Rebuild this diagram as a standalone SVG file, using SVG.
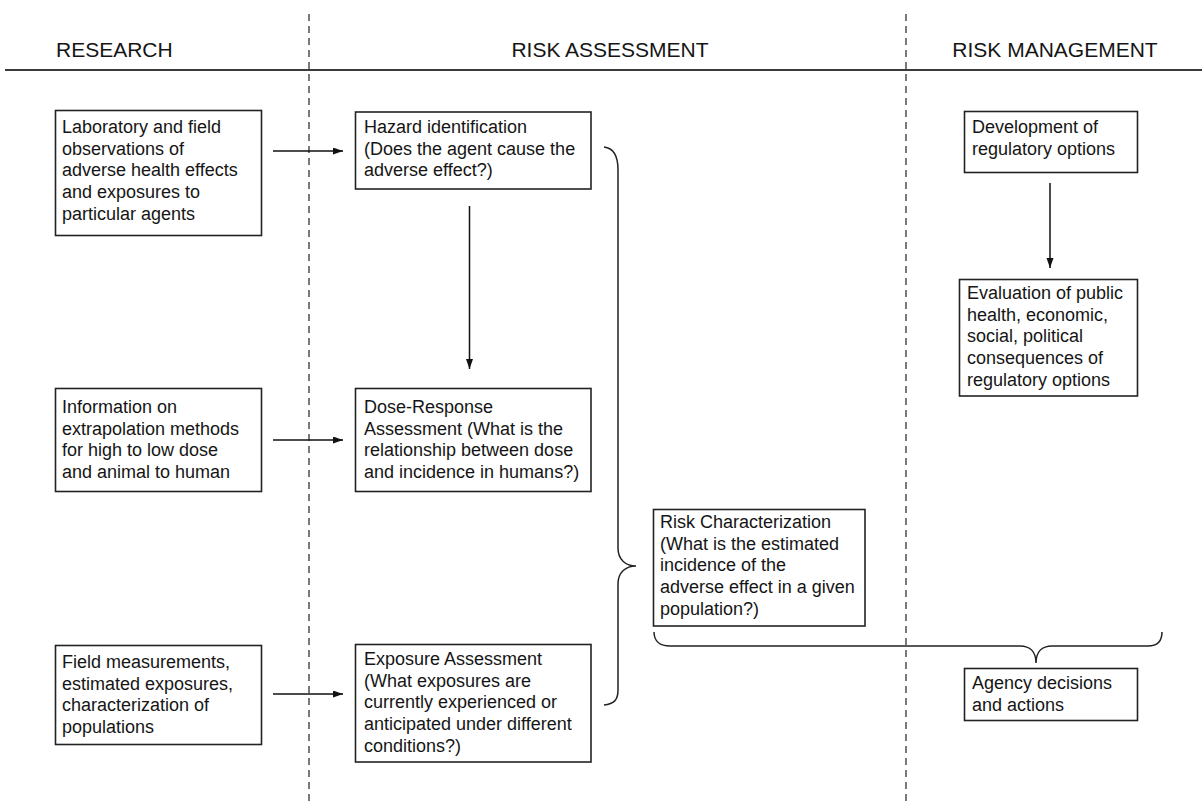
<svg xmlns="http://www.w3.org/2000/svg" width="1202" height="806" viewBox="0 0 1202 806">
<defs>
<marker id="ah" markerWidth="11" markerHeight="8" refX="10" refY="3.5" orient="auto" markerUnits="userSpaceOnUse">
<path d="M0,0 L10,3.5 L0,7 z" fill="#111"/>
</marker>
<style>
text{font-family:"Liberation Sans",Arial,Helvetica,sans-serif;fill:#151515}
.hdr{font-size:21px}
.t{font-size:18px}
.box{fill:#fff;stroke:#222;stroke-width:1.6}
.dash{stroke:#333;stroke-width:1.3;stroke-dasharray:7 5;fill:none}
.con{stroke:#111;stroke-width:1.5;fill:none}
.brace{stroke:#222;stroke-width:1.5;fill:none}
</style>
</defs>
<rect width="1202" height="806" fill="#fff"/>
<g id="headers">
<text class="hdr" x="56" y="57">RESEARCH</text>
<text class="hdr" x="610" y="57" text-anchor="middle">RISK ASSESSMENT</text>
<text class="hdr" x="1055" y="57" text-anchor="middle">RISK MANAGEMENT</text>
<line x1="5" y1="70" x2="1202" y2="70" stroke="#3a3a3a" stroke-width="2.2"/>
</g>
<g id="dividers">
<line class="dash" x1="309" y1="14" x2="309" y2="806"/>
<line class="dash" x1="906" y1="14" x2="906" y2="806"/>
</g>
<g id="connectors">
<line class="con" x1="273" y1="151" x2="343" y2="151" marker-end="url(#ah)"/>
<line class="con" x1="273" y1="440" x2="343" y2="440" marker-end="url(#ah)"/>
<line class="con" x1="273" y1="694" x2="343" y2="694" marker-end="url(#ah)"/>
<line class="con" x1="469.5" y1="206" x2="469.5" y2="369" marker-end="url(#ah)"/>
<line class="con" x1="1050" y1="183" x2="1050" y2="268" marker-end="url(#ah)"/>
<path class="brace" d="M604,147 C614,148 618,156 618,170 L618,548 C618,560 626,566 636,566 C626,566 618,572 618,584 L618,690 C618,700 614,704 604,705"/>
<path class="brace" d="M654,632 C654,641 660,646 670,646 L1020,646 C1030,646 1036,652 1036,663 C1036,652 1042,646 1052,646 L1148,646 C1158,646 1162,641 1162,632"/>
</g>
<g id="r1">
<rect class="box" x="55.5" y="110.5" width="206" height="125"/>
<text class="t" x="62"><tspan x="62" y="133">Laboratory and field</tspan><tspan x="62" y="154.7">observations of</tspan><tspan x="62" y="176.4">adverse health effects</tspan><tspan x="62" y="198.1">and exposures to</tspan><tspan x="62" y="219.8">particular agents</tspan></text>
</g>
<g id="r2">
<rect class="box" x="55.5" y="388.5" width="206" height="103"/>
<text class="t"><tspan x="62" y="413">Information on</tspan><tspan x="62" y="434.7">extrapolation methods</tspan><tspan x="62" y="456.4">for high to low dose</tspan><tspan x="62" y="478.1">and animal to human</tspan></text>
</g>
<g id="r3">
<rect class="box" x="55.5" y="645.5" width="206" height="99"/>
<text class="t"><tspan x="62" y="668">Field measurements,</tspan><tspan x="62" y="689.7">estimated exposures,</tspan><tspan x="62" y="711.4">characterization of</tspan><tspan x="62" y="733.1">populations</tspan></text>
</g>
<g id="a1">
<rect class="box" x="355.5" y="112" width="235.5" height="77"/>
<text class="t"><tspan x="364" y="133">Hazard identification</tspan><tspan x="364" y="154.7">(Does the agent cause the</tspan><tspan x="364" y="176.4">adverse effect?)</tspan></text>
</g>
<g id="a2">
<rect class="box" x="355.5" y="388.5" width="235.5" height="103"/>
<text class="t"><tspan x="364" y="413">Dose-Response</tspan><tspan x="364" y="434.7">Assessment (What is the</tspan><tspan x="364" y="456.4">relationship between dose</tspan><tspan x="364" y="478.1">and incidence in humans?)</tspan></text>
</g>
<g id="a3">
<rect class="box" x="355.5" y="644.5" width="235.5" height="117.5"/>
<text class="t"><tspan x="364" y="665">Exposure Assessment</tspan><tspan x="364" y="686.7">(What exposures are</tspan><tspan x="364" y="708.4">currently experienced or</tspan><tspan x="364" y="730.1">anticipated under different</tspan><tspan x="364" y="751.8">conditions?)</tspan></text>
</g>
<g id="rc">
<rect class="box" x="653.5" y="509.5" width="211.5" height="116.5"/>
<text class="t"><tspan x="660" y="528">Risk Characterization</tspan><tspan x="660" y="549.7">(What is the estimated</tspan><tspan x="660" y="571.4">incidence of the</tspan><tspan x="660" y="593.1">adverse effect in a given</tspan><tspan x="660" y="614.8">population?)</tspan></text>
</g>
<g id="m1">
<rect class="box" x="964.5" y="111.5" width="173" height="61"/>
<text class="t"><tspan x="972" y="133">Development of</tspan><tspan x="972" y="154.7">regulatory options</tspan></text>
</g>
<g id="m2">
<rect class="box" x="959.5" y="279.5" width="178" height="116.5"/>
<text class="t"><tspan x="967" y="299">Evaluation of public</tspan><tspan x="967" y="320.7">health, economic,</tspan><tspan x="967" y="342.4">social, political</tspan><tspan x="967" y="364.1">consequences of</tspan><tspan x="967" y="385.8">regulatory options</tspan></text>
</g>
<g id="agency">
<rect class="box" x="964.5" y="668.5" width="173" height="52"/>
<text class="t"><tspan x="972" y="689">Agency decisions</tspan><tspan x="972" y="710.7">and actions</tspan></text>
</g>
</svg>
